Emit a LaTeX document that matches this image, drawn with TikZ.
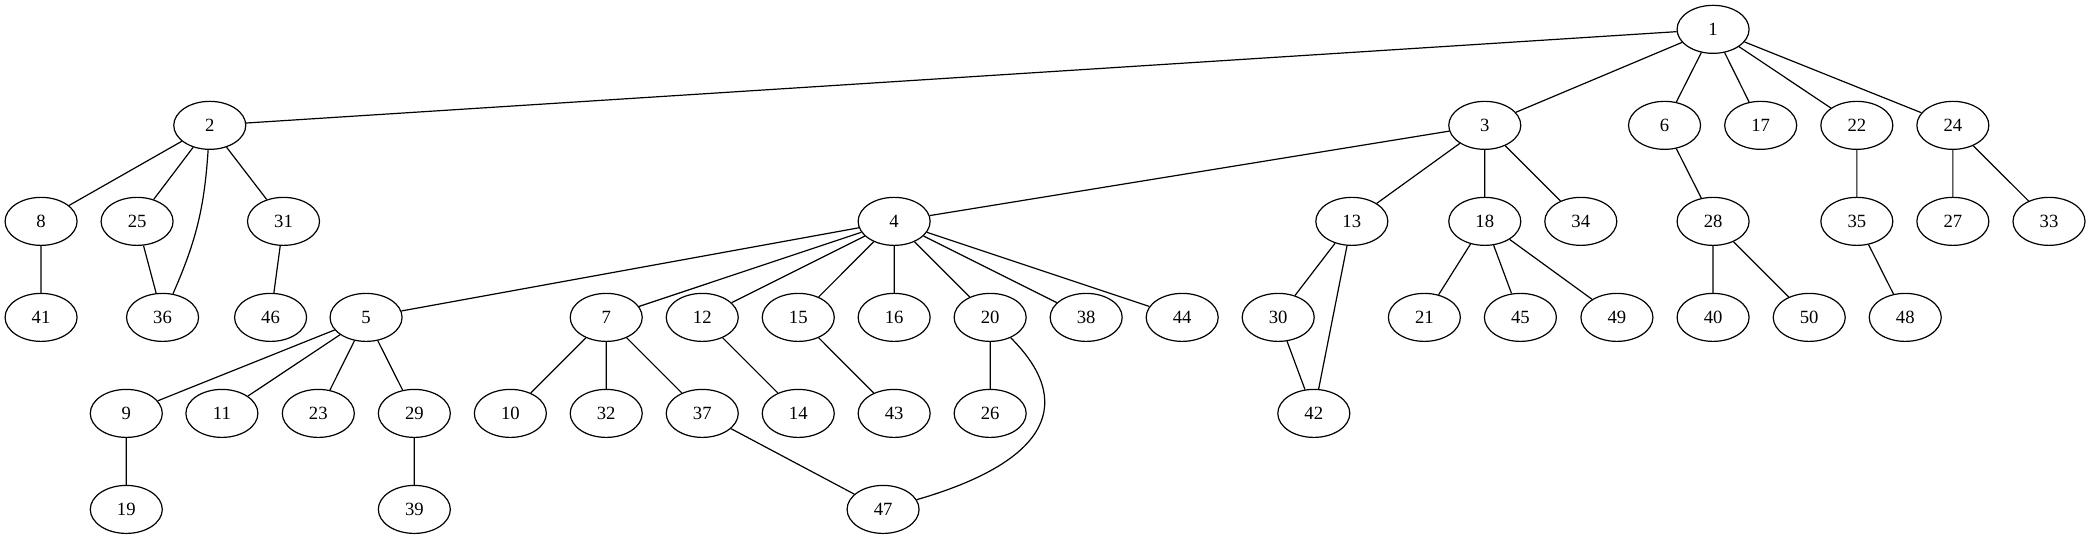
\documentclass[tikz,border=0pt]{standalone}
\usepackage{fontspec}
\setmainfont{Liberation Serif}
\usetikzlibrary{shapes.geometric}

\begin{document}
\begin{tikzpicture}[
        x=1pt, y=1pt,
        vertex/.style={ellipse,draw,line width=0.9pt,minimum width=54pt,minimum height=36pt,inner sep=0pt,font=\fontsize{14}{16}\selectfont},
        edge/.style={line width=0.9pt}
    ]
        \useasboundingbox (0,0) rectangle (1568,-404);

        % Vertices, rank 0 and 1
        \node[vertex] (1) at (1284.6,-22) {1};
        \node[vertex] (2) at (157.3,-94) {2};
        \node[vertex] (3) at (1113.4,-94) {3};
        \node[vertex] (6) at (1248.2,-94) {6};
        \node[vertex] (17) at (1320.3,-94) {17};
        \node[vertex] (22) at (1392.4,-94) {22};
        \node[vertex] (24) at (1464.4,-94) {24};

        % Vertices, rank 2
        \node[vertex] (8) at (30.8,-166) {8};
        \node[vertex] (25) at (102.8,-166) {25};
        \node[vertex] (31) at (212.6,-166) {31};
        \node[vertex] (4) at (670.5,-166) {4};
        \node[vertex] (13) at (1013.7,-166) {13};
        \node[vertex] (18) at (1113.4,-166) {18};
        \node[vertex] (34) at (1185.4,-166) {34};
        \node[vertex] (28) at (1284.6,-166) {28};
        \node[vertex] (35) at (1392.4,-166) {35};
        \node[vertex] (27) at (1464.4,-166) {27};
        \node[vertex] (33) at (1536.5,-166) {33};

        % Vertices, rank 3
        \node[vertex] (41) at (30.8,-238) {41};
        \node[vertex] (36) at (121.9,-238) {36};
        \node[vertex] (46) at (202.9,-238) {46};
        \node[vertex] (5) at (274.5,-238) {5};
        \node[vertex] (7) at (454.6,-238) {7};
        \node[vertex] (12) at (526.6,-238) {12};
        \node[vertex] (15) at (598.6,-238) {15};
        \node[vertex] (16) at (670.5,-238) {16};
        \node[vertex] (20) at (742.5,-238) {20};
        \node[vertex] (38) at (814.5,-238) {38};
        \node[vertex] (44) at (886.5,-238) {44};
        \node[vertex] (30) at (958.5,-238) {30};
        \node[vertex] (21) at (1068.1,-238) {21};
        \node[vertex] (45) at (1140.1,-238) {45};
        \node[vertex] (49) at (1212.5,-238) {49};
        \node[vertex] (40) at (1284.6,-238) {40};
        \node[vertex] (50) at (1356.7,-238) {50};
        \node[vertex] (48) at (1428.7,-238) {48};

        % Vertices, rank 4 and 5
        \node[vertex] (9) at (94.7,-310) {9};
        \node[vertex] (11) at (166.4,-310) {11};
        \node[vertex] (23) at (238.7,-310) {23};
        \node[vertex] (29) at (310.7,-310) {29};
        \node[vertex] (10) at (382.7,-310) {10};
        \node[vertex] (32) at (454.6,-310) {32};
        \node[vertex] (37) at (526.6,-310) {37};
        \node[vertex] (14) at (598.6,-310) {14};
        \node[vertex] (43) at (670.5,-310) {43};
        \node[vertex] (26) at (742.5,-310) {26};
        \node[vertex] (42) at (985.2,-310) {42};
        \node[vertex] (19) at (94.7,-382) {19};
        \node[vertex] (39) at (310.7,-382) {39};
        \node[vertex] (47) at (662.2,-382) {47};

        % Edges
        \draw[edge] (1) -- (2) (1) -- (3) (1) -- (6) (1) -- (17) (1) -- (22) (1) -- (24);
        \draw[edge] (2) -- (8) (2) -- (25) (2) -- (31);
        \draw[edge] (2) to[bend left=10] (36);
        \draw[edge] (3) -- (4) (3) -- (13) (3) -- (18) (3) -- (34);
        \draw[edge] (6) -- (28) (22) -- (35) (24) -- (27) (24) -- (33);
        \draw[edge] (8) -- (41) (25) -- (36) (31) -- (46);
        \draw[edge] (4) -- (5) (4) -- (7) (4) -- (12) (4) -- (15) (4) -- (16) (4) -- (20) (4) -- (38) (4) -- (44);
        \draw[edge] (13) -- (30) (13) -- (42) (30) -- (42);
        \draw[edge] (18) -- (21) (18) -- (45) (18) -- (49) (28) -- (40) (28) -- (50) (35) -- (48);
        \draw[edge] (5) -- (9) (5) -- (11) (5) -- (23) (5) -- (29);
        \draw[edge] (7) -- (10) (7) -- (32) (7) -- (37);
        \draw[edge] (12) -- (14) (15) -- (43) (20) -- (26);
        \draw[edge] (20) .. controls (805,-300) and (790,-345) .. (47);
        \draw[edge] (9) -- (19) (29) -- (39) (37) -- (47);
    \end{tikzpicture}
\end{document}
